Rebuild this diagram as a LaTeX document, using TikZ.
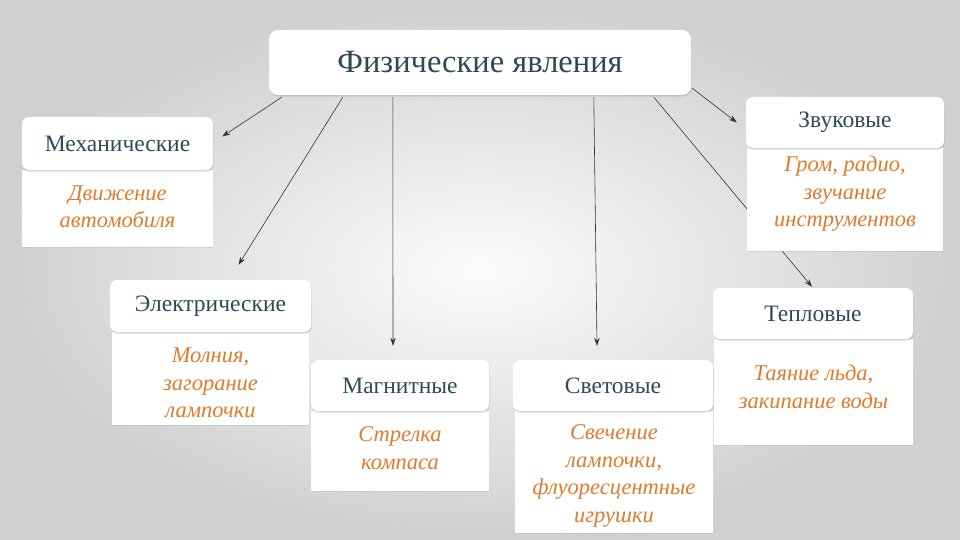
\documentclass[tikz,border=0pt]{standalone}
\usepackage{fontspec}
\setmainfont{Liberation Serif}
\usetikzlibrary{shadows,arrows.meta,calc}
\definecolor{hdrc}{HTML}{2E4A54}
\definecolor{orng}{HTML}{E07A2C}
\definecolor{bgout}{HTML}{D0D0D0}
\definecolor{bgin}{HTML}{FCFCFC}
\pgfdeclarelayer{bglayer}
\pgfdeclarelayer{linelayer}
\pgfsetlayers{bglayer,linelayer,main}
\begin{document}
\begin{tikzpicture}[x=1pt,y=-1pt,
  hdr/.style={fill=white, rounded corners=7pt, text=hdrc, inner sep=0pt,
    font=\fontsize{23.5}{27}\selectfont,
    general shadow={fill=black!35, opacity=.45, shadow xshift=.6pt, shadow yshift=-1.6pt}},
  bodybox/.style={fill=white, inner sep=0pt,
    general shadow={fill=black!30, opacity=.35, shadow xshift=.4pt, shadow yshift=-1.4pt}},
  bodytext/.style={text=orng, align=center, inner sep=0pt,
    font=\fontsize{22.5}{27.5}\selectfont\itshape},
  arr/.style={draw=black!80, line width=.6pt, -{Stealth[length=8pt,width=5.5pt]}}
]
\useasboundingbox (0,0) rectangle (960,540);
\begin{pgfonlayer}{bglayer}
\fill[inner color=bgin, outer color=bgout] (0,0) rectangle (960,540);
\end{pgfonlayer}

% top node
\node[hdr, rounded corners=9pt, minimum width=422pt, minimum height=65pt,
  font=\fontsize{32.5}{36}\selectfont] (top) at (480,62.5) {Физические явления};

% anchors on the top box for the connectors
\path (top.south west) ++(13,2) coordinate (sA);
\path (top.south west) ++(74,2) coordinate (sB);
\path (top.south west) ++(124,2) coordinate (sC);
\path (top.south west) ++(325,2) coordinate (sD);
\path (top.south west) ++(385,2) coordinate (sE);
\path (top.south east) ++(1,-7) coordinate (sF);

% bodies
\node[bodybox, minimum width=191pt, minimum height=77pt] (mechB) at (117.5,208.5) {};
\node[bodybox, minimum width=196pt, minimum height=103pt] (zvukB) at (845,199.5) {};
\node[bodybox, minimum width=197pt, minimum height=93pt] (elecB) at (210.5,378.5) {};
\node[bodybox, minimum width=178pt, minimum height=80pt] (magnB) at (400,451) {};
\node[bodybox, minimum width=198pt, minimum height=122pt] (lightB) at (614,472) {};
\node[bodybox, minimum width=199pt, minimum height=106pt] (heatB) at (813.5,392) {};

% headers
\node[hdr, minimum width=191pt, minimum height=53pt] (mechH) at (117.5,143.5) {Механические};
\node[hdr, minimum width=198pt, minimum height=51pt] (zvukH) at (845,122.5) {Звуковые};
\node[hdr, minimum width=201pt, minimum height=52pt] (elecH) at (210.5,306) {Электрические};
\node[hdr, minimum width=178pt, minimum height=51pt] (magnH) at (400,385.5) {Магнитные};
\node[hdr, minimum width=200pt, minimum height=51pt] (lightH) at (613,385.5) {Световые};
\node[hdr, minimum width=200pt, minimum height=51pt] (heatH) at (813,313.5) {Тепловые};

% body texts
\node[bodytext] (mechT) at (117.5,207) {Движение\\автомобиля};
\node[bodytext] (zvukT) at (845,194) {Гром, радио,\\звучание\\инструментов};
\node[bodytext] (elecT) at (210.5,383) {Молния,\\загорание\\лампочки};
\node[bodytext] (magnT) at (400,448) {Стрелка\\компаса};
\node[bodytext] (lightT) at (614,476) {Свечение\\лампочки,\\флуоресцентные\\игрушки};
\node[bodytext] (heatT) at (813.5,387) {Таяние льда,\\закипание воды};

% connectors
\draw[arr] (sA) -- ([shift={(9,-7)}]mechH.east);
\draw[arr] (sB) -- ([shift={(28,-15)}]elecH.north);
\draw[arr] (sC) -- ([shift={(-7,-14)}]magnH.north);
\draw[arr] (sD) -- ([shift={(-16,-14)}]lightH.north);
\draw[arr] (sF) -- ([shift={(-9,0)}]zvukH.west);
\begin{pgfonlayer}{linelayer}
\draw[arr] (sE) -- ([shift={(-1,-1)}]heatH.north);
\end{pgfonlayer}
\end{tikzpicture}
\end{document}
